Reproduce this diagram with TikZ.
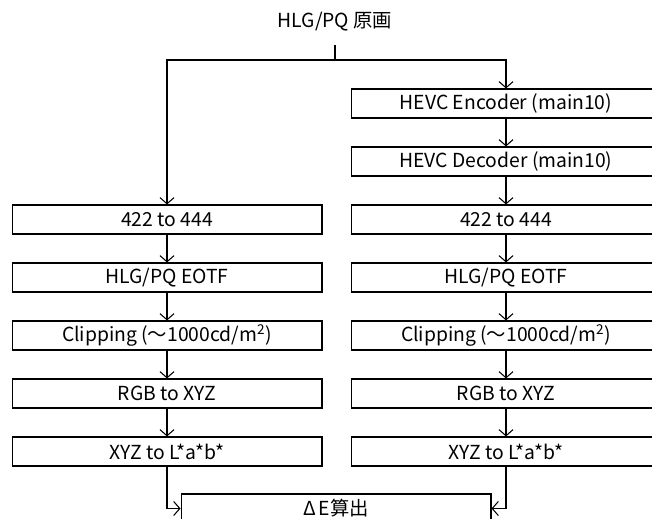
\documentclass[tikz,border=0pt]{standalone}
\usepackage{fontspec}
\setmainfont{Noto Sans CJK JP}
\usetikzlibrary{arrows.meta}

\begin{document}
\begin{tikzpicture}[x=.02cm,y=-.02cm,line width=.6pt,font=\fontsize{11}{13}\selectfont,
  >={Straight Barb[length=3.5pt,width=8pt]},
  stage/.style={draw,minimum width=6.2cm,minimum height=.58cm,inner sep=0pt}]
  \useasboundingbox (0,0) rectangle (652,519);

  \node (src) at (335,22) {HLG/PQ 原画};
  \coordinate (split) at (335,60);

  \node[stage] (enc) at (506,103.5) {HEVC Encoder (main10)};
  \node[stage] (dec) at (506,161.5) {HEVC Decoder (main10)};

  \node[stage] (upa) at (167,219.5) {422 to 444};
  \node[stage] (eotfa) at (167,277.5) {HLG/PQ EOTF};
  \node[stage] (clipa) at (167,335.5) {Clipping (～1000cd/m\textsuperscript{2})};
  \node[stage] (xyza) at (167,393.5) {RGB to XYZ};
  \node[stage] (laba) at (167,451.5) {XYZ to L*a*b*};

  \node[stage] (upb) at (506,219.5) {422 to 444};
  \node[stage] (eotfb) at (506,277.5) {HLG/PQ EOTF};
  \node[stage] (clipb) at (506,335.5) {Clipping (～1000cd/m\textsuperscript{2})};
  \node[stage] (xyzb) at (506,393.5) {RGB to XYZ};
  \node[stage] (labb) at (506,451.5) {XYZ to L*a*b*};

  \node[stage] (de) at (336,508.5) {Δ\,E算出};

  \draw[shorten <=4pt] (src) -- (split);
  \draw[->] (split) -| (upa);
  \draw[->] (split) -| (enc);
  \draw[->] (enc) -- (dec);
  \draw[->] (dec) -- (upb);

  \draw[->] (upa) -- (eotfa);
  \draw[->] (eotfa) -- (clipa);
  \draw[->] (clipa) -- (xyza);
  \draw[->] (xyza) -- (laba);
  \draw[->] (upb) -- (eotfb);
  \draw[->] (eotfb) -- (clipb);
  \draw[->] (clipb) -- (xyzb);
  \draw[->] (xyzb) -- (labb);

  \draw[->] (laba) |- (de);
  \draw[->] (labb) |- (de);
\end{tikzpicture}
\end{document}
